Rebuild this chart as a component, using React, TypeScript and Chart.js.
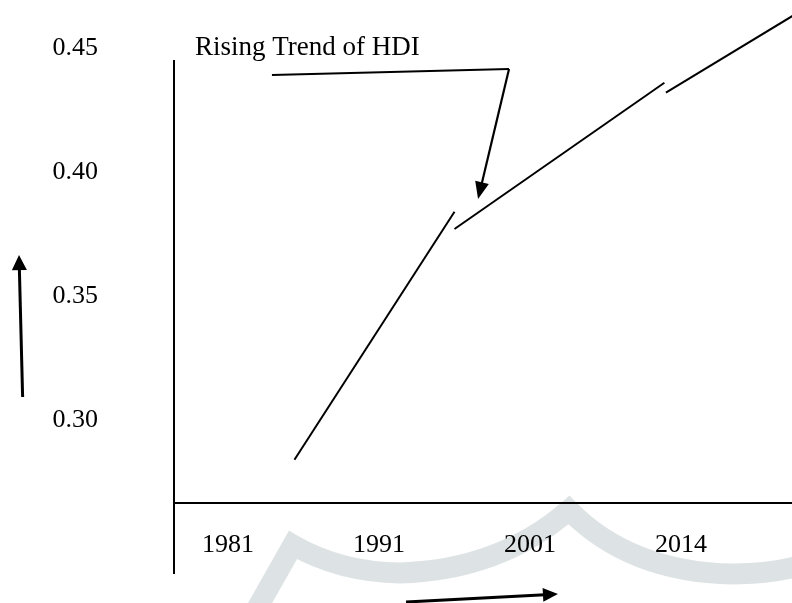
import React, { useEffect, useRef } from 'react';
import { Chart, registerables } from 'chart.js';

Chart.register(...registerables);

// ---- data -------------------------------------------------------------
const yearLabels = ['1981', '1991', '2001', '2014'];
const hdiTickValues = [0.3, 0.35, 0.4, 0.45];
// x = position along the year axis (0 = 1981 … 3 = 2014), y = HDI
const trendSegment1 = [
  { x: 0.44, y: 0.284 },
  { x: 1.5, y: 0.384 },
];
const trendSegment2 = [
  { x: 1.5, y: 0.377 },
  { x: 2.89, y: 0.436 },
];
const trendSegment3 = [
  { x: 2.9, y: 0.432 },
  { x: 3.74, y: 0.463 },
];
const annotationLabel = 'Rising Trend of HDI';

// ---- layout (not data) ------------------------------------------------
const X_MIN = -0.3576;
const X_MAX = 3.735;
const Y_MIN = 0.26653;
const Y_MAX = 0.469355;
const FONT_FAMILY = "'Liberation Serif', 'Times New Roman', serif";
const FONT_SIZE = 26;
const TITLE_FONT_SIZE = 27;

// annotation geometry in data space
const labelAnchor = { x: -0.219, y: 0.45 };
const pointerPath = [
  { x: 0.291, y: 0.4391 },
  { x: 1.861, y: 0.4415 },
  { x: 1.656, y: 0.3891 },
];
const yArrow = [
  { x: -1.36, y: 0.3093 },
  { x: -1.384, y: 0.3665 },
];
const xArrow = [
  { x: 1.179, y: 0.2266 },
  { x: 2.185, y: 0.2298 },
];
const yAxisExtent = { from: 0.2379, to: 0.4452 };
// faint watermark swoosh (start, then [ctrl, end] quadratic pairs)
const watermarkStart = { x: 0.179, y: 0.2226 };
const watermarkCorner = { x: 0.43, y: 0.2496 };
const watermarkCurves = [
  [{ x: 0.742, y: 0.2387 }, { x: 1.139, y: 0.2383 }],
  [{ x: 1.801, y: 0.2395 }, { x: 2.258, y: 0.2637 }],
  [{ x: 2.662, y: 0.2387 }, { x: 3.344, y: 0.2379 }],
  [{ x: 3.589, y: 0.2379 }, { x: 3.788, y: 0.2412 }],
];

function drawArrow(
  ctx: CanvasRenderingContext2D,
  x1: number,
  y1: number,
  x2: number,
  y2: number,
  head: number,
  half: number,
  width: number
) {
  const a = Math.atan2(y2 - y1, x2 - x1);
  const bx = x2 - head * Math.cos(a);
  const by = y2 - head * Math.sin(a);
  ctx.lineWidth = width;
  ctx.beginPath();
  ctx.moveTo(x1, y1);
  ctx.lineTo(bx + Math.cos(a) * 2, by + Math.sin(a) * 2);
  ctx.stroke();
  ctx.beginPath();
  ctx.moveTo(x2, y2);
  ctx.lineTo(bx + half * Math.sin(a), by - half * Math.cos(a));
  ctx.lineTo(bx - half * Math.sin(a), by + half * Math.cos(a));
  ctx.closePath();
  ctx.fill();
}

const decorPlugin = {
  id: 'decor',
  beforeDraw(chart: any) {
    const { ctx } = chart;
    const xs = chart.scales.x;
    const ys = chart.scales.y;
    const P = (p: { x: number; y: number }) => [xs.getPixelForValue(p.x), ys.getPixelForValue(p.y)];
    ctx.save();
    ctx.strokeStyle = '#dde3e4';
    ctx.lineWidth = 21;
    ctx.lineJoin = 'miter';
    ctx.miterLimit = 10;
    ctx.beginPath();
    const s = P(watermarkStart);
    ctx.moveTo(s[0], s[1]);
    const c = P(watermarkCorner);
    ctx.lineTo(c[0], c[1]);
    watermarkCurves.forEach(([cp, end]) => {
      const a = P(cp);
      const b = P(end);
      ctx.quadraticCurveTo(a[0], a[1], b[0], b[1]);
    });
    ctx.stroke();
    ctx.restore();
  },
  afterDraw(chart: any) {
    const { ctx, chartArea } = chart;
    const xs = chart.scales.x;
    const ys = chart.scales.y;
    const P = (p: { x: number; y: number }) => [xs.getPixelForValue(p.x), ys.getPixelForValue(p.y)];
    ctx.save();
    ctx.strokeStyle = '#000';
    ctx.fillStyle = '#000';
    ctx.lineCap = 'butt';

    // axes
    ctx.lineWidth = 2;
    ctx.beginPath();
    ctx.moveTo(chartArea.left, ys.getPixelForValue(yAxisExtent.to));
    ctx.lineTo(chartArea.left, ys.getPixelForValue(yAxisExtent.from));
    ctx.moveTo(chartArea.left, chartArea.bottom);
    ctx.lineTo(chartArea.right, chartArea.bottom);
    ctx.stroke();

    // annotation label
    ctx.font = `${TITLE_FONT_SIZE}px ${FONT_FAMILY}`;
    ctx.textAlign = 'left';
    ctx.textBaseline = 'middle';
    const la = P(labelAnchor);
    ctx.fillText(annotationLabel, la[0], la[1]);

    // pointer
    const p0 = P(pointerPath[0]);
    const p1 = P(pointerPath[1]);
    const p2 = P(pointerPath[2]);
    ctx.lineWidth = 2;
    ctx.beginPath();
    ctx.moveTo(p0[0], p0[1]);
    ctx.lineTo(p1[0], p1[1]);
    ctx.stroke();
    drawArrow(ctx, p1[0], p1[1], p2[0], p2[1], 17, 7, 2.2);

    // axis direction arrows
    const ya = P(yArrow[0]);
    const yb = P(yArrow[1]);
    drawArrow(ctx, ya[0], ya[1], yb[0], yb[1], 15, 7.5, 3);
    const xa = P(xArrow[0]);
    const xb = P(xArrow[1]);
    drawArrow(ctx, xa[0], xa[1], xb[0], xb[1], 15, 7, 3);
    ctx.restore();
  },
};

export default function App() {
  const ref = useRef<HTMLCanvasElement>(null);
  useEffect(() => {
    if (!ref.current) return;
    const lineStyle = {
      borderColor: '#000',
      borderWidth: 2,
      pointRadius: 0,
      fill: false,
      tension: 0,
    };
    const chart = new Chart(ref.current, {
      type: 'line',
      data: {
        datasets: [
          { ...lineStyle, data: trendSegment1 },
          { ...lineStyle, data: trendSegment2 },
          { ...lineStyle, data: trendSegment3 },
        ],
      },
      options: {
        responsive: false,
        animation: false,
        layout: { padding: 0 },
        plugins: { legend: { display: false }, tooltip: { enabled: false } },
        scales: {
          x: {
            type: 'linear',
            min: X_MIN,
            max: X_MAX,
            grid: { display: false, drawTicks: false },
            border: { display: false },
            afterBuildTicks: (s: any) => {
              s.ticks = yearLabels.map((_, i) => ({ value: i }));
            },
            afterFit: (s: any) => {
              s.height = 100;
              s.paddingLeft = 0;
              s.paddingRight = 0;
            },
            ticks: {
              autoSkip: false,
              maxRotation: 0,
              padding: 27,
              color: '#000',
              font: { family: FONT_FAMILY, size: FONT_SIZE },
              callback: (_v: any, i: number) => yearLabels[i],
            },
          },
          y: {
            type: 'linear',
            min: Y_MIN,
            max: Y_MAX,
            grid: { display: false, drawTicks: false },
            border: { display: false },
            afterBuildTicks: (s: any) => {
              s.ticks = hdiTickValues.map((v) => ({ value: v }));
            },
            afterFit: (s: any) => {
              s.width = 174;
              s.paddingTop = 0;
              s.paddingBottom = 0;
            },
            ticks: {
              padding: 76,
              crossAlign: 'center',
              color: '#000',
              font: { family: FONT_FAMILY, size: FONT_SIZE },
              callback: (v: any) => Number(v).toFixed(2),
            },
          },
        },
      },
      plugins: [decorPlugin],
    } as any);
    return () => chart.destroy();
  }, []);
  return (
    <div style={{ position: 'fixed', left: 0, top: 0, width: 792, height: 603, background: '#fff' }}>
      <canvas ref={ref} width={792} height={603} style={{ display: 'block', width: 792, height: 603 }} />
    </div>
  );
}
